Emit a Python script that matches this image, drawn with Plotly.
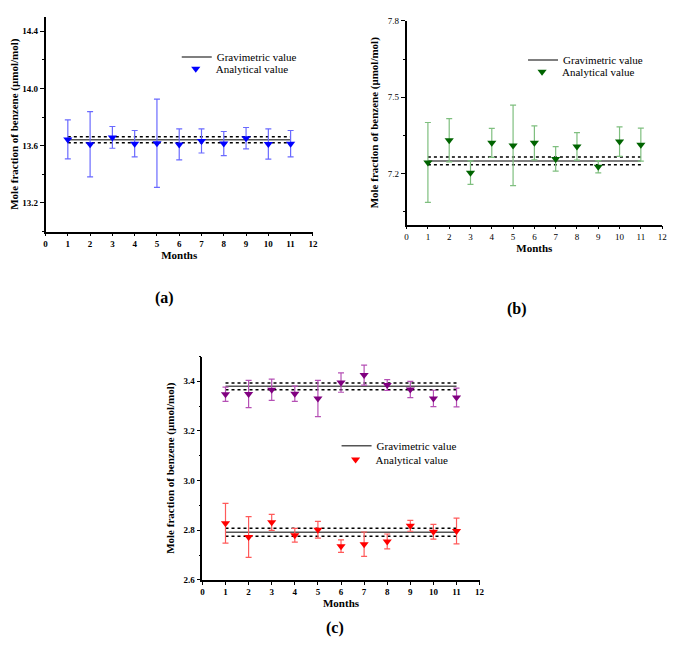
import plotly.graph_objects as go

months = list(range(1, 12))

# panel (a)
a_val = [13.644, 13.610, 13.658, 13.614, 13.617, 13.609, 13.633, 13.615, 13.652, 13.612, 13.614]
a_err = [0.136, 0.228, 0.076, 0.092, 0.309, 0.108, 0.084, 0.084, 0.075, 0.106, 0.092]
a_grav, a_grav_lo, a_grav_hi = 13.642, 13.620, 13.662

# panel (b)
b_val = [7.244, 7.331, 7.204, 7.321, 7.311, 7.321, 7.258, 7.307, 7.227, 7.326, 7.314]
b_err = [0.157, 0.085, 0.046, 0.057, 0.158, 0.067, 0.048, 0.054, 0.024, 0.058, 0.065]
b_grav, b_grav_lo, b_grav_hi = 7.250, 7.235, 7.265

# panel (c), two cylinders
c1_val = [3.348, 3.349, 3.366, 3.350, 3.331, 3.395, 3.425, 3.385, 3.367, 3.331, 3.335]
c1_err = [0.029, 0.055, 0.043, 0.031, 0.073, 0.039, 0.040, 0.022, 0.033, 0.033, 0.038]
c1_grav, c1_grav_lo, c1_grav_hi = 3.380, 3.366, 3.393
c2_val = [2.828, 2.773, 2.832, 2.780, 2.802, 2.736, 2.744, 2.755, 2.818, 2.794, 2.797]
c2_err = [0.080, 0.082, 0.032, 0.028, 0.034, 0.025, 0.049, 0.030, 0.022, 0.030, 0.052]
c2_grav, c2_grav_lo, c2_grav_hi = 2.792, 2.776, 2.808

FONT = "Liberation Serif"
span = [months[0], months[-1]]

# page has an 8px body margin, so work in screen pixels and convert
W, H = 669, 635


def px(xs):
    return (xs - 8) / W


def py(ys):
    return 1 - (ys - 8) / H


fig = go.Figure()


def add_panel(n, vals, errs, grav, lo, hi, mcol, ecol, leg_g, leg_a, show=True):
    xa = "x" if n == 1 else "x%d" % n
    ya = "y" if n == 1 else "y%d" % n
    fig.add_trace(go.Scatter(x=span, y=[grav, grav], mode="lines", xaxis=xa, yaxis=ya,
                             line=dict(color="#555555", width=1.5), name="Gravimetric value",
                             legend=leg_g, showlegend=show))
    for v in (lo, hi):
        fig.add_trace(go.Scatter(x=span, y=[v, v], mode="lines", xaxis=xa, yaxis=ya,
                                 line=dict(color="black", width=1.5, dash="dot"), showlegend=False))
    fig.add_trace(go.Scatter(x=months, y=vals, mode="markers", xaxis=xa, yaxis=ya,
                             marker=dict(symbol="triangle-down", size=8, color=mcol),
                             error_y=dict(type="data", array=errs, color=ecol, thickness=1.2, width=3),
                             name="Analytical value", legend=leg_a, showlegend=show))


add_panel(1, a_val, a_err, a_grav, a_grav_lo, a_grav_hi, "#0000ff", "#6a6aff", "legend", "legend2")
add_panel(2, b_val, b_err, b_grav, b_grav_lo, b_grav_hi, "#006400", "#7fbf7f", "legend3", "legend4")
add_panel(3, c1_val, c1_err, c1_grav, c1_grav_lo, c1_grav_hi, "#800080", "#b550b5", "legend5", "legend6",
          show=False)
add_panel(3, c2_val, c2_err, c2_grav, c2_grav_lo, c2_grav_hi, "#ff0000", "#ff5a5a", "legend5", "legend6")


def xax(x0, x1, anchor, bold=True):
    return dict(domain=[px(x0), px(x1)], anchor=anchor, range=[0, 12], dtick=1, showline=True,
                linecolor="black", linewidth=1.5, ticks="outside", ticklen=3, tickcolor="black",
                showgrid=False, zeroline=False,
                tickfont=dict(family=FONT, size=9, color="black", weight="bold" if bold else "normal"),
                title=dict(text="<b>Months</b>", font=dict(family=FONT, size=11, color="black"),
                           standoff=3))


def yax(y0, y1, anchor, rng, dt, mdt, bold=True):
    return dict(domain=[py(y0), py(y1)], anchor=anchor, range=rng, dtick=dt, showline=True,
                linecolor="black", linewidth=1.5, ticks="outside", ticklen=4, tickcolor="black",
                showgrid=False, zeroline=False, tickformat=".1f",
                minor=dict(dtick=mdt, ticks="outside", ticklen=2, tickcolor="black"),
                tickfont=dict(family=FONT, size=9, color="black", weight="bold" if bold else "normal"),
                title=dict(text="<b>Mole fraction of benzene (μmol/mol)</b>",
                           font=dict(family=FONT, size=11, color="black"), standoff=7))


leg = dict(bgcolor="rgba(0,0,0,0)", font=dict(family=FONT, size=11, color="black"),
           xanchor="left", yanchor="top", itemwidth=30)

fig.update_layout(
    width=W, height=H, margin=dict(l=0, r=0, t=0, b=0),
    paper_bgcolor="white", plot_bgcolor="white",
    xaxis=xax(42, 313, "y"), yaxis=yax(230, 12, "x", [13.0, 14.5], 0.4, 0.2),
    xaxis2=xax(408, 667, "y2", bold=False), yaxis2=yax(223, 16, "x2", [7.0, 7.8], 0.3, 0.15, bold=False),
    xaxis3=xax(201, 482, "y3"), yaxis3=yax(584, 357, "x3", [2.6, 3.5], 0.2, 0.1),
    legend=dict(leg, x=px(175), y=py(38)),
    legend2=dict(leg, x=px(174), y=py(50)),
    legend3=dict(leg, x=px(526), y=py(41)),
    legend4=dict(leg, x=px(525), y=py(53)),
    legend5=dict(leg, x=px(337), y=py(433)),
    legend6=dict(leg, x=px(336), y=py(447)),
    annotations=[
        dict(text="<b>%s</b>" % t, x=px(xs), y=py(ys), xref="paper", yref="paper", showarrow=False,
             xanchor="center", yanchor="middle", font=dict(family=FONT, size=16, color="black"))
        for t, xs, ys in [("(a)", 163, 298), ("(b)", 520, 309), ("(c)", 335, 633)]
    ],
)

fig.write_html("out.html")
